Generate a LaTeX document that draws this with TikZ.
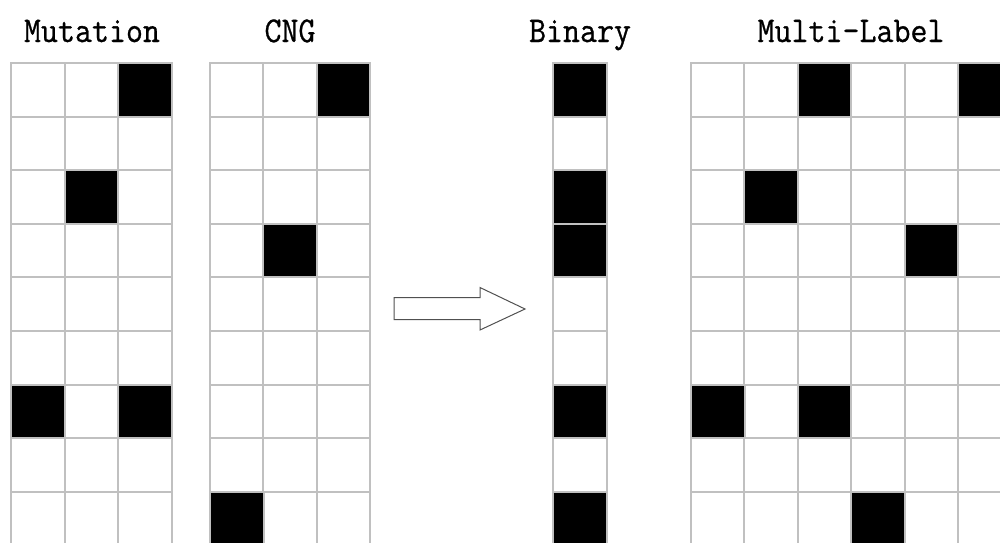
\documentclass[tikz,border=0pt]{standalone}
\usepackage{fontspec}
\newfontfamily\titlefont{Latin Modern Mono}[FakeBold=0.8]
\definecolor{gridgray}{HTML}{C0C0C0}
\definecolor{arrowgray}{HTML}{505050}
\begin{document}
\begin{tikzpicture}[x=1pt,y=-1pt,
  cell/.style={draw=gridgray, line width=2pt, fill=white, minimum size=53.6pt,
               inner sep=0pt, outer sep=0pt, anchor=north west},
  bcell/.style={cell, fill=black},
  title/.style={font=\fontsize{33}{40}\selectfont\titlefont, anchor=base, inner sep=0pt, yscale=1.1},
  bigarrow/.style={draw=arrowgray, line width=1pt, fill=white, line join=miter}]
\useasboundingbox (0,0) rectangle (1000,542);
\clip (0,0) rectangle (1000,542);
\fill[white] (0,0) rectangle (1000,542);
% Mutation grid
\foreach \r in {0,...,8} \foreach \c in {0,1,2}
  \node[cell] (mu-\r-\c) at ({11+53.6*\c},{63+53.6*\r}) {};
\foreach \r/\c in {0/2,2/1,6/0,6/2}
  \node[bcell] (mub-\r-\c) at ({11+53.6*\c},{63+53.6*\r}) {};
% CNG grid
\foreach \r in {0,...,8} \foreach \c in {0,1,2}
  \node[cell] (cn-\r-\c) at ({210+53.4*\c},{63+53.6*\r}) {};
\foreach \r/\c in {0/2,3/1,8/0}
  \node[bcell] (cnb-\r-\c) at ({210+53.4*\c},{63+53.6*\r}) {};
% Binary column
\foreach \r in {0,...,8}
  \node[cell] (bi-\r) at (553.3,{63+53.6*\r}) {};
\foreach \r in {0,2,3,6,8}
  \node[bcell] (bib-\r) at (553.3,{63+53.6*\r}) {};
% Multi-Label grid
\foreach \r in {0,...,8} \foreach \c in {0,...,5}
  \node[cell] (ml-\r-\c) at ({691+53.4*\c},{63+53.6*\r}) {};
\foreach \r/\c in {0/2,0/5,2/1,3/4,6/0,6/2,8/3}
  \node[bcell] (mlb-\r-\c) at ({691+53.4*\c},{63+53.6*\r}) {};
% Titles
\node[title] (t-mu) at (92,42) {Mutation};
\node[title] (t-cn) at (290,42) {CNG};
\node[title] (t-bi) at (580,42) {Binary};
\node[title] (t-ml) at (851,42) {Multi-Label};
% Arrow
\draw[bigarrow] (394,297.5) -- (480,297.5) -- (480,287.5) -- (525,309)
  -- (480,330) -- (480,319.5) -- (394,319.5) -- cycle;
\end{tikzpicture}
\end{document}
